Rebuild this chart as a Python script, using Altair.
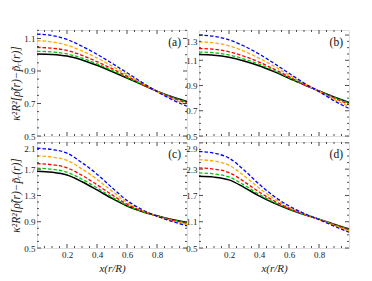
import altair as alt
import pandas as pd

# ---------------- data ----------------
x_vals = [0.0, 0.1, 0.2, 0.3, 0.4, 0.5, 0.6, 0.7, 0.8, 0.9, 1.0]
series = ["black", "green", "red", "orange", "blue"]

a_black = [1.005, 1.002, 0.992, 0.968, 0.935, 0.897, 0.857, 0.816, 0.776, 0.741, 0.712]
a_green = [1.021, 1.017, 1.005, 0.979, 0.944, 0.904, 0.861, 0.818, 0.776, 0.739, 0.708]
a_red = [1.045, 1.040, 1.026, 0.996, 0.957, 0.914, 0.868, 0.821, 0.775, 0.735, 0.702]
a_orange = [1.086, 1.079, 1.059, 1.023, 0.980, 0.930, 0.878, 0.825, 0.774, 0.730, 0.693]
a_blue = [1.127, 1.118, 1.094, 1.052, 1.003, 0.947, 0.889, 0.830, 0.773, 0.724, 0.683]

b_black = [1.145, 1.140, 1.124, 1.095, 1.057, 1.010, 0.958, 0.906, 0.858, 0.810, 0.766]
b_green = [1.165, 1.160, 1.142, 1.110, 1.069, 1.019, 0.963, 0.908, 0.857, 0.806, 0.760]
b_red = [1.193, 1.187, 1.167, 1.132, 1.086, 1.030, 0.970, 0.910, 0.856, 0.801, 0.751]
b_orange = [1.246, 1.238, 1.214, 1.172, 1.117, 1.053, 0.983, 0.915, 0.854, 0.790, 0.735]
b_blue = [1.300, 1.290, 1.262, 1.213, 1.150, 1.076, 0.997, 0.920, 0.852, 0.780, 0.718]

c_black = [1.670, 1.655, 1.612, 1.510, 1.385, 1.255, 1.140, 1.055, 0.990, 0.935, 0.890]
c_green = [1.716, 1.700, 1.655, 1.548, 1.416, 1.276, 1.151, 1.059, 0.989, 0.931, 0.883]
c_red = [1.786, 1.769, 1.722, 1.606, 1.464, 1.309, 1.168, 1.065, 0.988, 0.925, 0.873]
c_orange = [1.905, 1.886, 1.835, 1.704, 1.546, 1.366, 1.197, 1.075, 0.987, 0.915, 0.855]
c_blue = [2.020, 2.000, 1.945, 1.800, 1.625, 1.420, 1.225, 1.085, 0.985, 0.905, 0.838]

d_black = [2.137, 2.118, 2.055, 1.885, 1.690, 1.525, 1.385, 1.265, 1.160, 1.045, 0.935]
d_green = [2.214, 2.192, 2.123, 1.939, 1.727, 1.546, 1.395, 1.268, 1.159, 1.039, 0.925]
d_red = [2.327, 2.301, 2.222, 2.017, 1.780, 1.577, 1.410, 1.273, 1.157, 1.030, 0.910]
d_orange = [2.516, 2.484, 2.389, 2.150, 1.871, 1.629, 1.435, 1.282, 1.153, 1.015, 0.885]
d_blue = [2.703, 2.665, 2.553, 2.280, 1.960, 1.680, 1.460, 1.290, 1.150, 1.000, 0.860]

x_ticks = [0.2, 0.4, 0.6, 0.8]
x_minor = [0.05, 0.1, 0.15, 0.25, 0.3, 0.35, 0.45, 0.5, 0.55, 0.65, 0.7, 0.75, 0.85, 0.9, 0.95]

a_ticks = [0.5, 0.7, 0.9, 1.1]
b_ticks = [0.5, 0.7, 0.9, 1.1, 1.3]
c_ticks = [0.5, 0.9, 1.3, 1.7, 2.1]
d_ticks = [0.5, 1.1, 1.7, 2.3, 2.9]
a_minor = [0.55, 0.6, 0.65, 0.75, 0.8, 0.85, 0.95, 1.0, 1.05, 1.15]
b_minor = [0.55, 0.6, 0.65, 0.75, 0.8, 0.85, 0.95, 1.0, 1.05, 1.15, 1.2, 1.25]
c_minor = [0.6, 0.7, 0.8, 1.0, 1.1, 1.2, 1.4, 1.5, 1.6, 1.8, 1.9, 2.0]
d_minor = [0.65, 0.8, 0.95, 1.25, 1.4, 1.55, 1.85, 2.0, 2.15, 2.45, 2.6, 2.75]

a_domain = [0.5, 1.152]
b_domain = [0.5, 1.34]
c_domain = [0.5, 2.115]
d_domain = [0.5, 2.92]

colors = ["#000000", "#00c800", "#ff0000", "#ffaa00", "#0000ff"]

W, H = 150, 106
FONT = "Liberation Serif"
YTITLE = "κ²R²[ρ̃(r)−p̃ᵣ(r)]"


def panel(tag, curves, ydom, yticks, yminor, bottom, left):
    rows = []
    for name, vals in zip(series, curves):
        for xv, yv in zip(x_vals, vals):
            rows.append({"x": xv, "y": yv, "s": name})
    df = pd.DataFrame(rows)
    xs = alt.Scale(domain=[0, 1], nice=False, zero=False)
    ys = alt.Scale(domain=ydom, nice=False, zero=False)

    if bottom:
        xaxis = alt.Axis(values=x_ticks, ticks=False, domain=False, grid=False,
                         labelFont=FONT, labelFontSize=9, labelColor="#222",
                         labelPadding=2, format=".1f",
                         title="x(r/R)", titleFont=FONT, titleFontSize=11,
                         titleFontStyle="italic", titleFontWeight="normal",
                         titleColor="#222", titlePadding=3)
    else:
        xaxis = alt.Axis(values=x_ticks, ticks=False, domain=False, grid=False,
                         labels=False, title=None)
    near_top = ydom[1] - yticks[-1] < 0.05
    yaxis = alt.Axis(values=yticks, ticks=False, domain=False, grid=False,
                     labelFont=FONT, labelFontSize=9, labelColor="#222",
                     labelPadding=2, format=".1f",
                     labelOffset={"condition": {"test": f"datum.value > {yticks[-1] - 0.01}",
                                                "value": 6 if near_top else 0},
                                  "value": 0},
                     title=YTITLE if left else None, titleFont=FONT, titleFontSize=11.5,
                     titleFontStyle="italic", titleFontWeight="normal",
                     titleColor="#222", titlePadding=2)

    X = lambda f: alt.X(f, scale=xs, axis=xaxis, title=xaxis.title if bottom else None)
    Y = lambda f: alt.Y(f, scale=ys, axis=yaxis, title=YTITLE if left else None)

    black = alt.Chart(df).transform_filter(alt.datum.s == "black").mark_line(
        color="black", strokeWidth=1.5, interpolate="monotone"
    ).encode(x=X("x:Q"), y=Y("y:Q"))
    dashed = alt.Chart(df).transform_filter(alt.datum.s != "black").mark_line(
        strokeDash=[3.5, 2], strokeWidth=1.3, interpolate="monotone"
    ).encode(
        x=X("x:Q"), y=Y("y:Q"),
        color=alt.Color("s:N", scale=alt.Scale(domain=series, range=colors), legend=None),
    )

    ymaj = pd.DataFrame({"y": yticks})
    ymin = pd.DataFrame({"y": yminor})
    xmaj = pd.DataFrame({"x": x_ticks})
    xmin = pd.DataFrame({"x": x_minor})
    layers = [black, dashed]
    for d, ln in [(ymaj, 4), (ymin, 2)]:
        for x0, x1 in [(0, ln), (W - ln, W)]:
            layers.append(alt.Chart(d).mark_rule(color="#222", strokeWidth=0.8).encode(
                y=Y("y:Q"), x=alt.value(x0), x2=alt.value(x1)))
    for d, ln in [(xmaj, 4), (xmin, 2)]:
        for y0, y1 in [(H, H - ln), (0, ln)]:
            layers.append(alt.Chart(d).mark_rule(color="#222", strokeWidth=0.8).encode(
                x=X("x:Q"), y=alt.value(y0), y2=alt.value(y1)))
    lab = alt.Chart(pd.DataFrame({"t": [tag]})).mark_text(
        font=FONT, fontSize=11.5, align="right", baseline="middle", color="#111"
    ).encode(text="t:N", x=alt.value(W - 6), y=alt.value(13))
    layers.append(lab)
    return alt.layer(*layers).properties(width=W, height=H)


pa = panel("(a)", [a_black, a_green, a_red, a_orange, a_blue], a_domain, a_ticks, a_minor, False, True)
pb = panel("(b)", [b_black, b_green, b_red, b_orange, b_blue], b_domain, b_ticks, b_minor, False, False)
pc = panel("(c)", [c_black, c_green, c_red, c_orange, c_blue], c_domain, c_ticks, c_minor, True, True)
pd_ = panel("(d)", [d_black, d_green, d_red, d_orange, d_blue], d_domain, d_ticks, d_minor, True, False)

chart = alt.concat(pa, pb, pc, pd_, columns=2, spacing={"row": 6, "column": 12}, bounds="flush").resolve_scale(
    x="independent", y="independent"
).properties(
    padding={"left": 2, "top": 21, "right": 5, "bottom": 2}
).configure_view(stroke="#222", strokeWidth=1).configure(background="white")

chart.save("out.html", embed_options={"renderer": "svg", "actions": False})
